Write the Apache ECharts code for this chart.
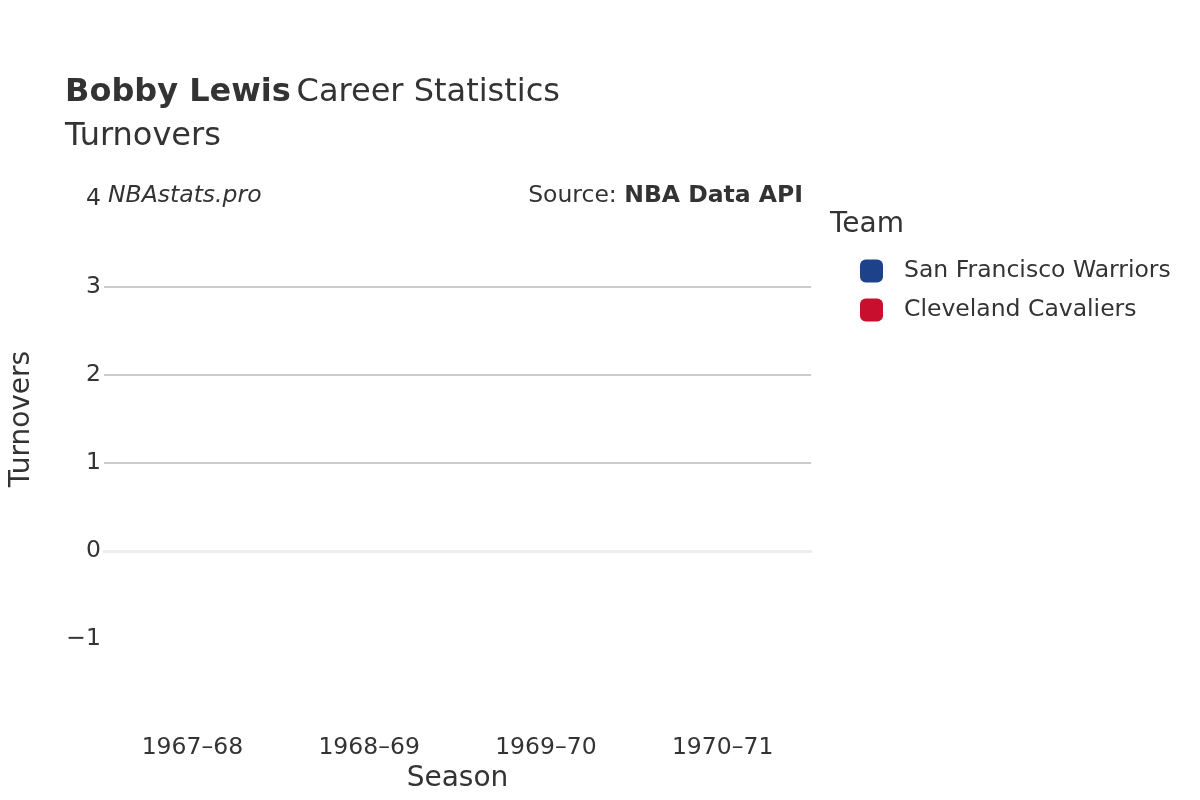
<!DOCTYPE html>
<html><head><meta charset="utf-8">
<script src="https://cdn.jsdelivr.net/npm/echarts@6/dist/echarts.min.js"></script>
<style>html,body{margin:0;padding:0;background:#fff}#c{width:1200px;height:800px}</style>
</head><body><div id="c"></div>
<script>
const seasons = ['1967–68','1968–69','1969–70','1970–71'];
const teams = ['San Francisco Warriors','Cleveland Cavaliers'];
const teamColors = ['#1d428a','#c8102e'];
const warriorsTurnovers = [null,null,null,null];
const cavaliersTurnovers = [null,null,null,null];
const yTicks = [-1,0,1,2,3,4];
const F = 'DejaVu Sans';
const chart = echarts.init(document.getElementById('c'));
chart.setOption({
  animation:false,
  textStyle:{fontFamily:F,color:'#333'},
  title:[{text:'{b|Bobby Lewis} {n|Career Statistics}\n{n|Turnovers}',left:60,top:66,
    textStyle:{fontWeight:'normal',rich:{b:{fontFamily:F,fontSize:32,fontWeight:'bold',color:'#333',lineHeight:44},n:{fontFamily:F,fontSize:32,fontWeight:'normal',color:'#333',lineHeight:44}}}},
    {text:'NBAstats.pro',left:103,top:179,textStyle:{fontFamily:F,fontSize:23.5,fontStyle:'italic',fontWeight:'normal',color:'#333'}},
    {text:'{n|Source: }{b|NBA Data API}',right:392,top:179,textStyle:{fontWeight:'normal',rich:{n:{fontFamily:F,fontSize:23.5,fontWeight:'normal',color:'#333'},b:{fontFamily:F,fontSize:23.5,fontWeight:'bold',color:'#333'}}}}],
  legend:{orient:'vertical',left:855,top:254,itemWidth:23,itemHeight:23,itemGap:15,icon:'roundRect',
    data:teams,textStyle:{fontFamily:F,fontSize:23.5,color:'#333',padding:[0,0,0,16]}},
  graphic:[{type:'text',left:830,top:211,style:{text:'Team',fontFamily:F,fontSize:28,fill:'#333'}}],
  grid:{left:98,right:389,top:199,bottom:161},
  xAxis:{type:'category',data:seasons,name:'Season',nameLocation:'middle',nameGap:72,
    nameTextStyle:{fontFamily:F,fontSize:28,color:'#333'},
    axisLine:{show:true,onZero:true,lineStyle:{color:'#eee',width:3}},axisTick:{show:false},
    axisLabel:{fontFamily:F,fontSize:23.5,color:'#333',margin:97},
    position:'bottom'},
  yAxis:{type:'value',min:-1,max:4,interval:1,name:'Turnovers',nameLocation:'middle',nameGap:68,
    nameTextStyle:{fontFamily:F,fontSize:28,color:'#333'},
    axisLine:{show:false},axisTick:{show:false},
    axisLabel:{fontFamily:F,fontSize:23.5,color:'#333',margin:3,formatter:v=>v<0?'−'+Math.abs(v):v},
    splitLine:{lineStyle:{color:['transparent','transparent','#bbb','#bbb','#bbb','transparent'],width:1.5}}},
  series:[
    {name:teams[0],type:'line',data:warriorsTurnovers,itemStyle:{color:teamColors[0]},lineStyle:{width:3}},
    {name:teams[1],type:'line',data:cavaliersTurnovers,itemStyle:{color:teamColors[1]},lineStyle:{width:3}}
  ]
});
</script></body></html>
